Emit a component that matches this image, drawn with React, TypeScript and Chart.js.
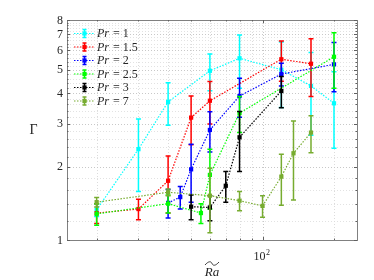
import React, { useEffect, useRef } from 'react';
import { Chart, registerables } from 'chart.js';
Chart.register(...registerables);

const prLabels = ['1', '1.5', '2', '2.5', '3', '7'];
const seriesColors = ['#00FFFF', '#FF0000', '#0000FF', '#00FF00', '#000000', '#77AC30'];

const raPr1 = [20, 30, 40, 60, 80, 120, 160, 200];
const gammaPr1 = [1.33, 2.36, 3.69, 4.95, 5.57, 5.0, 4.29, 3.64];
const errPr1 = [0.08, 0.78, 0.73, 0.85, 1.37, 1.5, 1.6, 1.26];

const raPr15 = [20, 30, 40, 50, 60, 120, 160];
const gammaPr15 = [1.29, 1.34, 1.75, 3.18, 3.73, 5.52, 5.29];
const errPr15 = [0.12, 0.13, 0.46, 0.72, 0.74, 1.04, 1.41];

const raPr2 = [40, 45, 50, 60, 80, 120, 200];
const gammaPr2 = [1.42, 1.5, 1.95, 2.83, 3.9, 4.8, 5.26];
const errPr2 = [0.19, 0.16, 0.52, 0.53, 0.71, 0.51, 1.2];

const raPr25 = [20, 40, 55, 60, 80, 200];
const gammaPr25 = [1.28, 1.41, 1.29, 1.85, 3.32, 5.65];
const errPr25 = [0.13, 0.12, 0.12, 0.51, 0.56, 1.45];

const raPr3 = [50, 60, 70, 80, 120];
const gammaPr3 = [1.37, 1.36, 1.67, 2.64, 4.09];
const errPr3 = [0.16, 0.16, 0.24, 0.73, 0.6];

const raPr7 = [20, 40, 60, 80, 100, 120, 135, 160];
const gammaPr7 = [1.43, 1.57, 1.52, 1.45, 1.38, 1.82, 2.27, 2.76];
const errPr7 = [0.065, 0.05, 0.45, 0.13, 0.14, 0.43, 0.81, 0.48];

const yTickLabels = [1, 2, 3, 4, 5, 6, 7, 8];
const yMinor = [1.2, 1.4, 1.6, 1.8, 2.2, 2.4, 2.6, 2.8, 3.2, 3.4, 3.6, 3.8, 4.2, 4.4, 4.6, 4.8, 5.2, 5.4, 5.6, 5.8, 6.2, 6.4, 6.6, 6.8, 7.2, 7.4, 7.6, 7.8];
const xMajor = [100];
const xMinor = [20, 30, 40, 50, 60, 70, 80, 90, 200];

const allX = [raPr1, raPr15, raPr2, raPr25, raPr3, raPr7];
const allY = [gammaPr1, gammaPr15, gammaPr2, gammaPr25, gammaPr3, gammaPr7];
const allErr = [errPr1, errPr15, errPr2, errPr25, errPr3, errPr7];

const SERIF = '"Liberation Serif", "DejaVu Serif", serif';

const gridPlugin = {
  id: 'gridPlugin',
  beforeDatasetsDraw(chart: any) {
    const { ctx, chartArea: a, scales } = chart;
    const xs = scales.x, ys = scales.y;
    ctx.save();
    ctx.lineWidth = 1;
    ctx.setLineDash([1, 2]);
    const hline = (v: number, c: string) => {
      const y = Math.round(ys.getPixelForValue(v)) + 0.5;
      ctx.strokeStyle = c;
      ctx.beginPath(); ctx.moveTo(a.left, y); ctx.lineTo(a.right, y); ctx.stroke();
    };
    const vline = (v: number, c: string) => {
      const x = Math.round(xs.getPixelForValue(v)) + 0.5;
      ctx.strokeStyle = c;
      ctx.beginPath(); ctx.moveTo(x, a.top); ctx.lineTo(x, a.bottom); ctx.stroke();
    };
    yMinor.forEach(v => hline(v, '#e2e2e2'));
    xMinor.forEach(v => vline(v, '#dcdcdc'));
    yTickLabels.forEach(v => hline(v, '#c8c8c8'));
    xMajor.forEach(v => vline(v, '#c8c8c8'));
    ctx.restore();
  },
};

const errPlugin = {
  id: 'errPlugin',
  afterDatasetDraw(chart: any, args: any) {
    const i = args.index;
    const { ctx, scales } = chart;
    const xs = scales.x, ys = scales.y;
    ctx.save();
    ctx.strokeStyle = seriesColors[i];
    ctx.lineWidth = 1.5;
    ctx.setLineDash([]);
    allX[i].forEach((xv, j) => {
      const x = xs.getPixelForValue(xv);
      const yv = allY[i][j], e = allErr[i][j];
      const yt = ys.getPixelForValue(yv + e);
      const yb = ys.getPixelForValue(Math.max(yv - e, 0.01));
      ctx.beginPath();
      ctx.moveTo(x, yt); ctx.lineTo(x, yb);
      ctx.moveTo(x - 2.5, yt); ctx.lineTo(x + 2.5, yt);
      ctx.moveTo(x - 2.5, yb); ctx.lineTo(x + 2.5, yb);
      ctx.stroke();
    });
    ctx.restore();
  },
};

const decorPlugin = {
  id: 'decorPlugin',
  afterDraw(chart: any) {
    const { ctx, chartArea: a, scales } = chart;
    const xs = scales.x, ys = scales.y;
    ctx.save();
    // box
    ctx.strokeStyle = '#808080';
    ctx.lineWidth = 1;
    ctx.setLineDash([]);
    ctx.strokeRect(Math.round(a.left) + 0.5, Math.round(a.top) + 0.5, Math.round(a.right - a.left), Math.round(a.bottom - a.top));
    // ticks
    ctx.strokeStyle = '#606060';
    ctx.beginPath();
    const yt = (v: number, len: number) => {
      const y = Math.round(ys.getPixelForValue(v)) + 0.5;
      ctx.moveTo(a.left, y); ctx.lineTo(a.left + len, y);
      ctx.moveTo(a.right, y); ctx.lineTo(a.right - len, y);
    };
    const xt = (v: number, len: number) => {
      const x = Math.round(xs.getPixelForValue(v)) + 0.5;
      ctx.moveTo(x, a.bottom); ctx.lineTo(x, a.bottom - len);
      ctx.moveTo(x, a.top); ctx.lineTo(x, a.top + len);
    };
    yTickLabels.forEach(v => yt(v, 3));
    yMinor.forEach(v => yt(v, 1.5));
    xMajor.forEach(v => xt(v, 3));
    xMinor.forEach(v => xt(v, 1.5));
    ctx.stroke();

    // y tick labels
    ctx.fillStyle = '#262626';
    ctx.font = `12px ${SERIF}`;
    ctx.textAlign = 'right';
    ctx.textBaseline = 'middle';
    yTickLabels.forEach(v => {
      ctx.fillText(String(v), a.left - 4, ys.getPixelForValue(v) + 0.5);
    });
    // x tick label 10^2
    ctx.textBaseline = 'alphabetic';
    xMajor.forEach(v => {
      const x = xs.getPixelForValue(v);
      ctx.font = `12px ${SERIF}`;
      ctx.textAlign = 'right';
      ctx.fillText('10', x + 3, 260);
      ctx.font = `8px ${SERIF}`;
      ctx.textAlign = 'left';
      ctx.fillText(String(Math.round(Math.log10(v))), x + 3.5, 255);
    });
    // y title
    ctx.font = `14px ${SERIF}`;
    ctx.textAlign = 'center';
    ctx.textBaseline = 'middle';
    ctx.fillText('Γ', 33.5, 130.5);
    // x title
    ctx.font = `italic 13px ${SERIF}`;
    ctx.textAlign = 'center';
    ctx.textBaseline = 'alphabetic';
    const cx = (a.left + a.right) / 2;
    ctx.fillText('Ra', cx, 276);
    ctx.strokeStyle = '#262626';
    ctx.lineWidth = 0.9;
    ctx.beginPath();
    ctx.moveTo(cx - 7, 265);
    ctx.bezierCurveTo(cx - 3.5, 261, cx - 1, 261, cx, 263.5);
    ctx.bezierCurveTo(cx + 1, 266, cx + 3.5, 266, cx + 7, 262);
    ctx.stroke();

    // legend
    prLabels.forEach((lab, i) => {
      const y = 33.5 + i * 13.5;
      const c = seriesColors[i];
      ctx.strokeStyle = c;
      ctx.fillStyle = c;
      ctx.lineWidth = 1.2;
      ctx.setLineDash([1.5, 1.5]);
      ctx.beginPath(); ctx.moveTo(74, y); ctx.lineTo(95, y); ctx.stroke();
      ctx.setLineDash([]);
      ctx.lineWidth = 1.5;
      ctx.beginPath();
      ctx.moveTo(84.5, y - 4); ctx.lineTo(84.5, y + 4);
      ctx.moveTo(82.5, y - 4); ctx.lineTo(86.5, y - 4);
      ctx.moveTo(82.5, y + 4); ctx.lineTo(86.5, y + 4);
      ctx.stroke();
      ctx.fillRect(82.4, y - 2.1, 4.2, 4.2);
      ctx.fillStyle = '#262626';
      ctx.textAlign = 'left';
      ctx.textBaseline = 'middle';
      ctx.font = `italic 12px ${SERIF}`;
      ctx.fillText('Pr', 97, y + 0.5);
      const w = ctx.measureText('Pr').width;
      ctx.font = `12px ${SERIF}`;
      ctx.fillText(' = ' + lab, 97 + w + 1, y + 0.5);
    });
    ctx.restore();
  },
};

export default function App() {
  const ref = useRef<HTMLCanvasElement>(null);
  useEffect(() => {
    const canvas = ref.current!;
    const datasets = prLabels.map((lab, i) => ({
      label: 'Pr = ' + lab,
      data: allX[i].map((x, j) => ({ x, y: allY[i][j] })),
      borderColor: seriesColors[i],
      backgroundColor: seriesColors[i],
      borderWidth: 1.2,
      borderDash: [1.5, 1.5],
      pointStyle: 'rect',
      pointRadius: 3,
      pointBorderWidth: 0,
      pointBackgroundColor: seriesColors[i],
      fill: false,
      tension: 0,
      order: prLabels.length - i,
    }));
    const chart = new Chart(canvas, {
      type: 'line',
      data: { datasets },
      options: {
        responsive: false,
        animation: false,
        devicePixelRatio: 1,
        layout: { padding: { left: 67, right: 17, top: 20, bottom: 40 } },
        plugins: { legend: { display: false }, tooltip: { enabled: false } },
        scales: {
          x: { type: 'logarithmic', min: 15, max: 250, display: false },
          y: { type: 'logarithmic', min: 1, max: 8, display: false },
        },
      },
      plugins: [gridPlugin, errPlugin, decorPlugin],
    } as any);
    return () => chart.destroy();
  }, []);
  return (
    <div style={{ position: 'absolute', left: 0, top: 0, width: 374, height: 280, background: '#fff' }}>
      <canvas ref={ref} width={374} height={280} style={{ display: 'block', width: 374, height: 280 }} />
    </div>
  );
}
